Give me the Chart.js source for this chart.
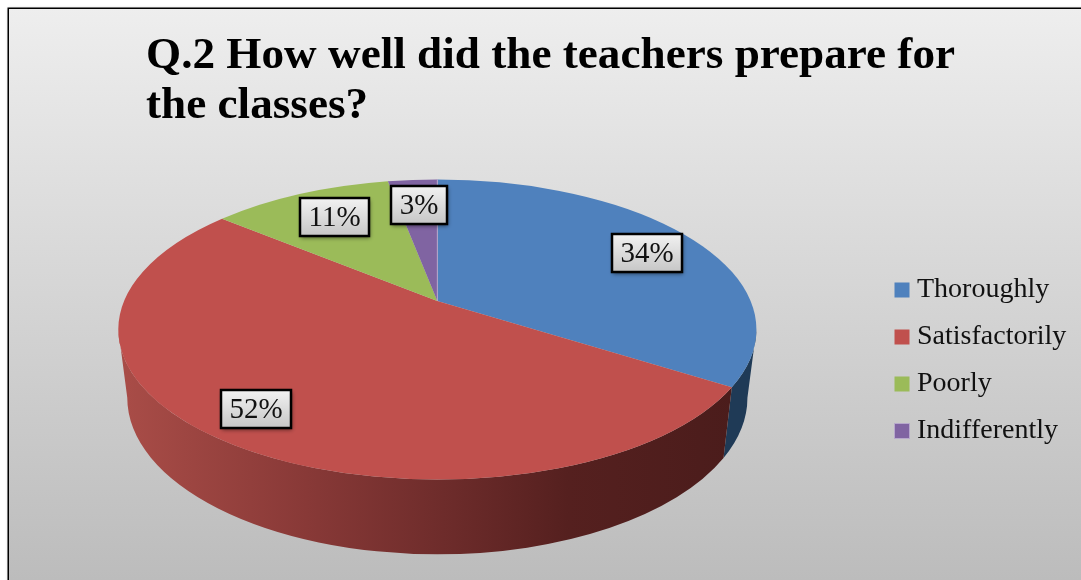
<!DOCTYPE html>
<html><head><meta charset="utf-8">
<style>html,body{margin:0;padding:0;background:#fff}canvas{display:block}</style>
<script src="https://cdn.jsdelivr.net/npm/chart.js@4"></script>
</head><body>
<canvas id="c" width="1081" height="580"></canvas>
<script>
const titleLines = ['Q.2 How well did the teachers prepare for', 'the classes?'];
const categories = ['Thoroughly', 'Satisfactorily', 'Poorly', 'Indifferently'];
const percentages = [34, 52, 11, 3];
const sliceColors = ['#4f81bd', '#c0504d', '#9bbb59', '#8064a2'];
const labelRadii = [0.8, 0.83, 0.75, 0.76];
const labelTurns = [0.04, 0.03, 0.02, 0.004];

// 3-D look: ratios relative to the arc's own outer radius
const WIDE = 320 / 170, FLAT = 150.5 / 170, PERSP = -0.19;
const WALL_WIDE = 311 / 170, WALL_FLAT = 157 / 170, WALL_DROP = 68.5 / 170;
const wallStops = [
  [[0, '#1f3a56'], [1, '#1f3a56']],
  [[0, '#a84c47'], [0.29, '#883937'], [0.51, '#6e2c2b'], [0.71, '#55201f'], [1, '#4a1c1b']],
  [[0, '#5c7035'], [1, '#5c7035']],
  [[0, '#4c3c61'], [1, '#4c3c61']]
];

function project(theta, t) {
  const u = t * Math.cos(theta), v = t * Math.sin(theta), d = 1 + PERSP * v;
  return { u: u * Math.sqrt(1 - PERSP * PERSP) / d, v: (v + PERSP) / d };
}
function phiOf(theta) { const p = project(theta, 1); return Math.atan2(p.v, p.u); }
function phiRange(a, b) {
  const p0 = phiOf(a); let p1 = phiOf(b);
  while (p1 <= p0) p1 += 2 * Math.PI;
  return [p0, p1];
}

const Arc = Chart.ArcElement || Chart.elements.ArcElement;
class PerspectiveArc extends Arc {
  static id = 'perspectiveArc';
  draw(ctx) {
    const { x, y, startAngle, endAngle, outerRadius: r } =
      this.getProps(['x', 'y', 'startAngle', 'endAngle', 'outerRadius']);
    const rx = r * WIDE, ry = r * FLAT, cy = y - PERSP * ry;
    const [p0, p1] = phiRange(startAngle, endAngle);
    ctx.save();
    ctx.beginPath();
    ctx.moveTo(x, y);
    ctx.ellipse(x, cy, rx, ry, 0, p0, p1);
    ctx.closePath();
    ctx.fillStyle = this.options.backgroundColor;
    ctx.fill();
    if (this.options.borderWidth > 0) {
      ctx.beginPath();
      ctx.moveTo(x, y);
      ctx.lineTo(x + rx * Math.cos(p1), cy + ry * Math.sin(p1));
      ctx.strokeStyle = this.options.borderColor;
      ctx.lineWidth = this.options.borderWidth;
      ctx.stroke();
    }
    ctx.restore();
  }
}
Chart.register(PerspectiveArc);
Chart.defaults.datasets.pie.dataElementType = 'perspectiveArc';

const panel = {
  id: 'panel',
  beforeDraw(chart) {
    const { ctx, width, height } = chart;
    ctx.save();
    ctx.fillStyle = '#fff';
    ctx.fillRect(0, 0, width, height);
    const g = ctx.createLinearGradient(0, 8, 0, height);
    g.addColorStop(0, '#eeeeee');
    g.addColorStop(1, '#bcbcbc');
    ctx.shadowColor = 'rgba(0,0,0,0.35)';
    ctx.shadowBlur = 3;
    ctx.fillStyle = '#000';
    ctx.fillRect(7.5, 7.5, width, height);
    ctx.shadowColor = 'transparent';
    ctx.fillStyle = g;
    ctx.fillRect(9, 9, width, height);
    ctx.restore();
  }
};

const placeBlocks = {
  id: 'placeBlocks',
  afterLayout(chart) {
    const l = chart.legend;
    l.left = 882; l.right = 1081; l.top = 257; l.bottom = 580;
    chart.titleBlock.right = chart.width;
  }
};

const walls = {
  id: 'walls',
  beforeDatasetsDraw(chart) {
    const { ctx } = chart;
    const meta = chart.getDatasetMeta(0);
    meta.data.forEach((el, i) => {
      const { x, y, startAngle, endAngle, outerRadius: r } =
        el.getProps(['x', 'y', 'startAngle', 'endAngle', 'outerRadius']);
      let [p0, p1] = phiRange(startAngle, endAngle);
      if (p1 <= 0) return;
      if (p0 >= Math.PI) return;
      p0 = Math.max(p0, 0); p1 = Math.min(p1, Math.PI);
      const rx = r * WIDE, ry = r * FLAT, cy = y - PERSP * ry;
      const bx = r * WALL_WIDE, by = r * WALL_FLAT, bcy = cy + r * WALL_DROP;
      const g = ctx.createLinearGradient(x - bx, 0, x + bx, 0);
      wallStops[i].forEach(s => g.addColorStop(s[0], s[1]));
      ctx.save();
      ctx.beginPath();
      ctx.ellipse(x, cy, rx, ry, 0, p0, p1);
      ctx.ellipse(x, bcy, bx, by, 0, p1, p0, true);
      ctx.closePath();
      ctx.fillStyle = g;
      ctx.fill();
      ctx.restore();
    });
  }
};

const boxedLabels = {
  id: 'boxedLabels',
  afterDatasetsDraw(chart) {
    const { ctx } = chart;
    const meta = chart.getDatasetMeta(0);
    ctx.save();
    ctx.font = '29px "Liberation Serif"';
    ctx.textAlign = 'center';
    ctx.textBaseline = 'middle';
    meta.data.forEach((el, i) => {
      const { x, y, startAngle, endAngle, outerRadius: r } =
        el.getProps(['x', 'y', 'startAngle', 'endAngle', 'outerRadius']);
      const rx = r * WIDE, ry = r * FLAT, cy = y - PERSP * ry;
      const p = project((startAngle + endAngle) / 2 + labelTurns[i], labelRadii[i]);
      const lx = x + p.u * rx, ly = cy + p.v * ry;
      const text = percentages[i] + '%';
      const w = Math.round(ctx.measureText(text).width) + 17, h = 38;
      const bx = Math.round(lx - w / 2), by = Math.round(ly - h / 2);
      const g = ctx.createLinearGradient(0, by, 0, by + h);
      g.addColorStop(0, '#f2f2f2');
      g.addColorStop(1, '#c6c6c6');
      ctx.save();
      ctx.shadowColor = 'rgba(0,0,0,0.5)';
      ctx.shadowBlur = 4;
      ctx.shadowOffsetX = 1;
      ctx.shadowOffsetY = 2;
      ctx.fillStyle = g;
      ctx.fillRect(bx, by, w, h);
      ctx.restore();
      ctx.strokeStyle = '#000';
      ctx.lineWidth = 2.5;
      ctx.strokeRect(bx, by, w, h);
      ctx.fillStyle = '#111';
      ctx.fillText(text, bx + w / 2, by + h / 2 + 1);
    });
    ctx.restore();
  }
};

new Chart(document.getElementById('c'), {
  type: 'pie',
  data: {
    labels: categories,
    datasets: [{
      data: percentages,
      backgroundColor: sliceColors,
      borderWidth: [0, 0, 0, 1],
      borderColor: ['#000', '#000', '#000', '#b7a8cc']
    }]
  },
  plugins: [panel, placeBlocks, walls, boxedLabels],
  options: {
    responsive: false,
    animation: false,
    events: [],
    layout: { padding: { left: 146, right: 158, top: 0, bottom: 109 } },
    plugins: {
      tooltip: { enabled: false },
      title: {
        display: true,
        text: titleLines,
        align: 'start',
        color: '#000',
        font: { family: '"Liberation Serif"', size: 45.2, weight: 'bold', lineHeight: 50 / 45.2 },
        padding: { top: 31, bottom: 0 }
      },
      legend: {
        display: true,
        position: 'right',
        align: 'start',
        labels: {
          usePointStyle: true,
          pointStyle: 'rect',
          boxWidth: 2,
          boxHeight: 15,
          padding: 19,
          color: '#111',
          font: { family: '"Liberation Serif"', size: 28 }
        }
      }
    }
  }
});
</script>
</body></html>
